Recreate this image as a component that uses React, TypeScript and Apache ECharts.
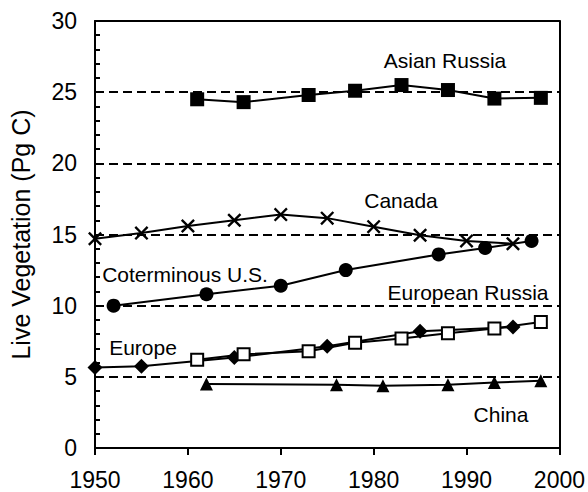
import React, { useEffect, useRef } from "react";
import * as echarts from "echarts";

const asianRussiaYears = [1961, 1966, 1973, 1978, 1983, 1988, 1993, 1998];
const asianRussiaValues = [24.5, 24.3, 24.8, 25.1, 25.5, 25.15, 24.55, 24.6];

const canadaYears = [1950, 1955, 1960, 1965, 1970, 1975, 1980, 1985, 1990, 1995];
const canadaValues = [14.7, 15.1, 15.6, 16.0, 16.4, 16.15, 15.55, 14.95, 14.55, 14.35];

const usYears = [1952, 1962, 1970, 1977, 1987, 1992, 1997];
const usValues = [10.0, 10.8, 11.4, 12.5, 13.6, 14.05, 14.55];

const europeYears = [1950, 1955, 1965, 1975, 1985, 1995];
const europeValues = [5.65, 5.75, 6.35, 7.15, 8.2, 8.5];

const euRussiaYears = [1961, 1966, 1973, 1978, 1983, 1988, 1993, 1998];
const euRussiaValues = [6.2, 6.58, 6.8, 7.4, 7.7, 8.07, 8.4, 8.85];

const chinaYears = [1962, 1976, 1981, 1988, 1993, 1998];
const chinaValues = [4.5, 4.45, 4.38, 4.45, 4.6, 4.72];

const FONT = "'Liberation Sans', Arial, Helvetica, sans-serif";
const CROSS =
  "path://M0,1.2L1.2,0L5,3.8L8.8,0L10,1.2L6.2,5L10,8.8L8.8,10L5,6.2L1.2,10L0,8.8L3.8,5Z";

function pairs(xs: number[], ys: number[]) {
  return xs.map((x, i) => [x, ys[i]]);
}

function lineSeries(name: string, xs: number[], ys: number[], symbol: string, size: number, fill: string) {
  return {
    name,
    type: "line",
    xAxisIndex: 0,
    yAxisIndex: 0,
    data: pairs(xs, ys),
    symbol,
    symbolSize: size,
    clip: false,
    lineStyle: { color: "#000", width: 2 },
    itemStyle: { color: fill, borderColor: "#000", borderWidth: fill === "#fff" ? 2 : 0 },
    z: 5,
  };
}

const axisLineBlack = { show: true, onZero: false, lineStyle: { color: "#000", width: 2 } };

export default function App() {
  const ref = useRef<HTMLDivElement>(null);
  useEffect(() => {
    document.body.style.margin = "0";
    const chart = echarts.init(ref.current!, undefined, { renderer: "svg" });
    const textStyle = (t: string, x: number, y: number) => ({
      type: "text",
      x,
      y,
      style: {
        text: t,
        fontSize: 21,
        fontFamily: FONT,
        fill: "#000",
        align: "center",
        verticalAlign: "middle",
      },
      z: 10,
    });
    chart.setOption({
      animation: false,
      backgroundColor: "#fff",
      grid: { left: 93, right: 25, top: 21, bottom: 44, show: false },
      xAxis: [
        {
          type: "value",
          position: "bottom",
          min: 1950,
          max: 2000,
          interval: 10,
          axisLine: axisLineBlack,
          axisTick: { show: true, inside: false, length: 7, lineStyle: { color: "#000", width: 2 } },
          axisLabel: {
            color: "#000",
            fontSize: 23,
            fontFamily: FONT,
            margin: 20,
            formatter: (v: number) => String(v),
          },
          splitLine: { show: false },
        },
        {
          type: "value",
          position: "top",
          min: 1950,
          max: 2000,
          interval: 10,
          axisLine: axisLineBlack,
          axisTick: { show: false },
          axisLabel: { show: false },
          splitLine: { show: false },
        },
      ],
      yAxis: [
        {
          type: "value",
          position: "left",
          min: 0,
          max: 30,
          interval: 5,
          name: "Live Vegetation (Pg C)",
          nameLocation: "middle",
          nameGap: 62,
          nameTextStyle: { color: "#000", fontSize: 25, fontFamily: FONT },
          axisLine: axisLineBlack,
          axisTick: { show: true, inside: true, length: 6, lineStyle: { color: "#000", width: 2 } },
          minorTick: { show: true, splitNumber: 5, length: 5, lineStyle: { color: "#000", width: 2 } },
          axisLabel: { color: "#000", fontSize: 23, fontFamily: FONT, margin: 18 },
          splitLine: {
            show: true,
            lineStyle: { color: "#000", width: 2, type: [9, 5] },
          },
        },
        {
          type: "value",
          position: "right",
          min: 0,
          max: 30,
          interval: 5,
          axisLine: axisLineBlack,
          axisTick: { show: false },
          axisLabel: { show: false },
          splitLine: { show: false },
        },
      ],
      series: [
        lineSeries("Asian Russia", asianRussiaYears, asianRussiaValues, "rect", 14, "#000"),
        lineSeries("Canada", canadaYears, canadaValues, CROSS, 14, "#000"),
        lineSeries("Coterminous U.S.", usYears, usValues, "circle", 14, "#000"),
        lineSeries("Europe", europeYears, europeValues, "diamond", 15, "#000"),
        lineSeries("European Russia", euRussiaYears, euRussiaValues, "rect", 12, "#fff"),
        lineSeries("China", chinaYears, chinaValues, "triangle", 13, "#000"),
        {
          name: "border",
          type: "line",
          xAxisIndex: 1,
          yAxisIndex: 1,
          data: [[1950, 0]],
          symbol: "none",
          lineStyle: { opacity: 0 },
          silent: true,
        },
      ],
      graphic: [
        textStyle("Asian Russia", 445, 60),
        textStyle("Canada", 401, 200),
        textStyle("Coterminous U.S.", 185, 274),
        textStyle("European Russia", 468, 292),
        textStyle("Europe", 143, 347),
        textStyle("China", 501, 414),
      ],
    });
    return () => chart.dispose();
  }, []);
  return <div ref={ref} style={{ width: 588, height: 492 }} />;
}
